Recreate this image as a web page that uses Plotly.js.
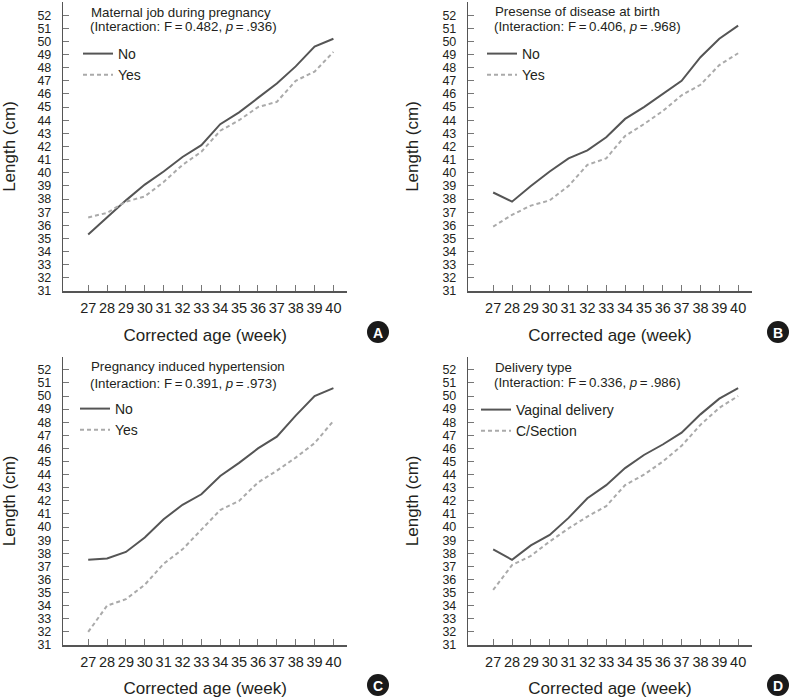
<!DOCTYPE html>
<html>
<head>
<meta charset="utf-8">
<script src="https://cdn.plot.ly/plotly-3.0.1.min.js"></script>
<style>html,body{margin:0;padding:0;background:#fff;}#chart{width:795px;height:698px;}</style>
</head>
<body>
<div id="chart"></div>
<script>
// ---- data ----
const weeks = [27,28,29,30,31,32,33,34,35,36,37,38,39,40];
const yTicks = [31,32,33,34,35,36,37,38,39,40,41,42,43,44,45,46,47,48,49,50,51,52];

// Panel A: Maternal job during pregnancy
const jobNo  = [35.3,36.6,37.9,39.1,40.1,41.2,42.1,43.7,44.6,45.7,46.8,48.1,49.6,50.2];
const jobYes = [36.6,36.95,37.8,38.2,39.3,40.6,41.6,43.2,44.0,45.0,45.4,47.0,47.7,49.2];
// Panel B: Presence of disease at birth
const disNo  = [38.5,37.8,39.0,40.1,41.1,41.7,42.7,44.1,45.0,46.0,47.0,48.8,50.2,51.2];
const disYes = [35.9,36.8,37.5,37.9,39.0,40.6,41.1,42.8,43.7,44.7,45.9,46.7,48.2,49.1];
// Panel C: Pregnancy induced hypertension
const pihNo  = [37.5,37.6,38.1,39.2,40.6,41.7,42.5,43.9,44.9,46.0,46.9,48.5,50.0,50.6];
const pihYes = [32.0,34.0,34.5,35.6,37.2,38.3,39.8,41.3,42.0,43.4,44.3,45.3,46.4,48.1];
// Panel D: Delivery type
const vagData = [38.3,37.5,38.6,39.4,40.7,42.2,43.2,44.5,45.5,46.3,47.2,48.6,49.8,50.6];
const csData  = [35.2,37.1,37.8,38.9,39.9,40.8,41.6,43.2,44.0,45.0,46.2,47.8,49.1,50.0];

const panelTitles = ["Maternal job during pregnancy","Presense of disease at birth","Pregnancy induced hypertension","Delivery type"];
const panelStats = [["0.482",".936"],["0.406",".968"],["0.391",".973"],["0.336",".986"]];
const seriesNames = [["No","Yes"],["No","Yes"],["No","Yes"],["Vaginal delivery","C/Section"]];
const panelLetters = ["A","B","C","D"];

// ---- layout helpers ----
const W = 795, H = 698;
const px = v => v / W;
const py = v => 1 - v / H;
const TXT = "#231f20";
const NARROW = "Liberation Sans Narrow, Arial Narrow, sans-serif";
const REG = "Liberation Sans, Arial, sans-serif";
const solidStyle = {color:"#555555", width:2};
const dashStyle  = {color:"#aaaaaa", width:2, dash:"4px,3px"};

const panels = [
  {xd:[63.3,347], yd:[2,291],   s1:jobNo, s2:jobYes, t1:12.3, t2:26.7, tx:89,  lx:78,  ly:38,  cx:378, cy:332},
  {xd:[468.3,751.7], yd:[2,291], s1:disNo, s2:disYes, t1:11.7, t2:26.7, tx:493, lx:482, ly:38,  cx:778, cy:332},
  {xd:[63.3,347], yd:[356.7,645], s1:pihNo, s2:pihYes, t1:366.7, t2:383, tx:89, lx:75, ly:393, cx:378, cy:685},
  {xd:[468.3,751.7], yd:[356.7,645], s1:vagData, s2:csData, t1:367.3, t2:382.3, tx:493, lx:476, ly:394, cx:778, cy:685}
];

const data = [];
const layout = {
  width:W, height:H,
  margin:{l:0,r:0,t:0,b:0},
  paper_bgcolor:"#fff", plot_bgcolor:"#fff",
  font:{family:NARROW, color:TXT},
  annotations:[], shapes:[]
};

panels.forEach((p,i) => {
  const n = i+1;
  const xa = n===1 ? "x" : "x"+n, ya = n===1 ? "y" : "y"+n;
  const xk = n===1 ? "xaxis" : "xaxis"+n, yk = n===1 ? "yaxis" : "yaxis"+n;
  const lg = n===1 ? "legend" : "legend"+n;
  data.push({x:weeks, y:p.s1, type:"scatter", mode:"lines", name:seriesNames[i][0], line:solidStyle, xaxis:xa, yaxis:ya, legend:lg, hoverinfo:"skip"});
  data.push({x:weeks, y:p.s2, type:"scatter", mode:"lines", name:seriesNames[i][1], line:dashStyle, xaxis:xa, yaxis:ya, legend:lg, hoverinfo:"skip"});

  layout[xk] = {
    domain:[px(p.xd[0]), px(p.xd[1])], anchor:ya,
    range:[25.68,40.72], tickvals:weeks, ticktext:weeks.map(String),
    tickangle:0,
    ticks:"inside", ticklen:6, tickcolor:"#777", tickwidth:1,
    showline:true, linecolor:"#555", linewidth:1.5,
    showgrid:false, zeroline:false, fixedrange:true,
    ticklabelstandoff:3,
    tickfont:{size:14.5, color:TXT, family:NARROW},
    title:{text:"Corrected age (week)", font:{size:17, color:TXT, family:REG}, standoff:14}
  };
  layout[yk] = {
    domain:[py(p.yd[1]), py(p.yd[0])], anchor:xa,
    range:[31,53], tickvals:yTicks, ticktext:yTicks.map(String),
    ticks:"inside", ticklen:6, tickcolor:"#777", tickwidth:1,
    showline:true, linecolor:"#555", linewidth:1.5,
    showgrid:false, zeroline:false, fixedrange:true,
    ticklabelstandoff:8,
    tickfont:{size:12.5, color:TXT, family:NARROW},
    title:{text:"Length (cm)", font:{size:17, color:TXT, family:REG}, standoff:19}
  };
  layout[lg] = {
    x:px(p.lx), y:py(p.ly), xanchor:"left", yanchor:"top",
    bgcolor:"rgba(0,0,0,0)", borderwidth:0,
    font:{size:14, color:TXT, family:NARROW}, itemwidth:30, tracegroupgap:0
  };
  layout.annotations.push({
    xref:"paper", yref:"paper", x:px(p.tx), y:py(p.t1), xanchor:"left", yanchor:"middle",
    text:panelTitles[i], showarrow:false, font:{size:13.3, color:TXT, family:NARROW}
  });
  layout.annotations.push({
    xref:"paper", yref:"paper", x:px(p.tx-1), y:py(p.t2), xanchor:"left", yanchor:"middle",
    text:"(Interaction: F\u2009=\u2009"+panelStats[i][0]+", <i>p</i>\u2009=\u2009"+panelStats[i][1]+")",
    showarrow:false, font:{size:13.3, color:TXT, family:NARROW}
  });
  const r = 11;
  layout.shapes.push({type:"circle", xref:"paper", yref:"paper",
    x0:px(p.cx-r), x1:px(p.cx+r), y0:py(p.cy+r), y1:py(p.cy-r),
    fillcolor:"#1a1a1a", line:{width:0}});
  layout.annotations.push({
    xref:"paper", yref:"paper", x:px(p.cx), y:py(p.cy+0.5), xanchor:"center", yanchor:"middle",
    text:"<b>"+panelLetters[i]+"</b>", showarrow:false,
    font:{size:14, color:"#fff", family:REG}
  });
});

Plotly.newPlot("chart", data, layout, {displayModeBar:false, staticPlot:true});
</script>
</body>
</html>
